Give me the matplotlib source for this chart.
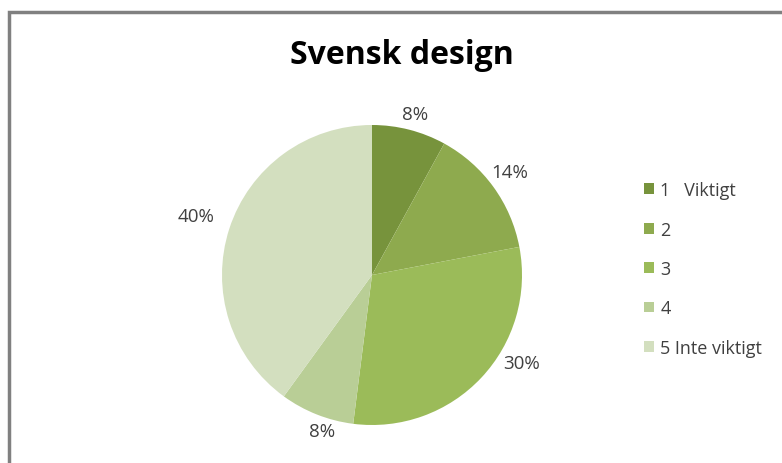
import matplotlib.pyplot as plt
from matplotlib.patches import Rectangle

# survey answers, scale 1 (important) .. 5 (not important)
categories = ['1   Viktigt', '2', '3', '4', '5 Inte viktigt']
shares = [8, 14, 30, 8, 40]
pct_labels = ['8%', '14%', '30%', '8%', '40%']
colors = ['#77933c', '#8eaa4e', '#9bbb59', '#b9ce96', '#d3dfbf']

# where each percentage sits, in pie units (radius 1)
label_xy = [(0.29, 1.07), (0.92, 0.69), (1.0, -0.59), (-0.33, -1.04), (-1.17, 0.39)]

plt.rcParams['font.family'] = ['Open Sans', 'DejaVu Sans']

W, H = 782, 464
fig = plt.figure(figsize=(W / 100., H / 100.), dpi=100)

# grey frame round the chart area
fig.patches.append(Rectangle((9. / W, -0.1), 1.2, 1.1 - 13. / H, transform=fig.transFigure,
                             fill=False, ec='#808080', lw=2.5))

cx, cy, r = 372., 276., 150.
ax = fig.add_axes([(cx - r) / W, (H - cy - r) / H, 2 * r / W, 2 * r / H])
wedges, texts = ax.pie(shares, colors=colors, startangle=90, counterclock=False,
                       labels=pct_labels, labeldistance=1.12,
                       textprops=dict(fontsize=13.5, color='#404040'),
                       wedgeprops=dict(lw=0))
for t, xy in zip(texts, label_xy):
    t.set_position(xy)
    t.set_ha('center')
    t.set_va('center')
ax.set_xlim(-1, 1)
ax.set_ylim(-1, 1)

fig.text(402. / W, 1 - 55. / H, 'Svensk design', ha='center', va='center',
         fontsize=23, fontweight='bold', color='black')

fig.legend(wedges, categories, loc='upper left', bbox_to_anchor=(628. / W, 1 - 166. / H),
           frameon=False, fontsize=13, handlelength=0.55, handleheight=0.55,
           handletextpad=0.35, labelspacing=1.185, labelcolor='#404040')

plt.savefig('out.png', dpi=100)
